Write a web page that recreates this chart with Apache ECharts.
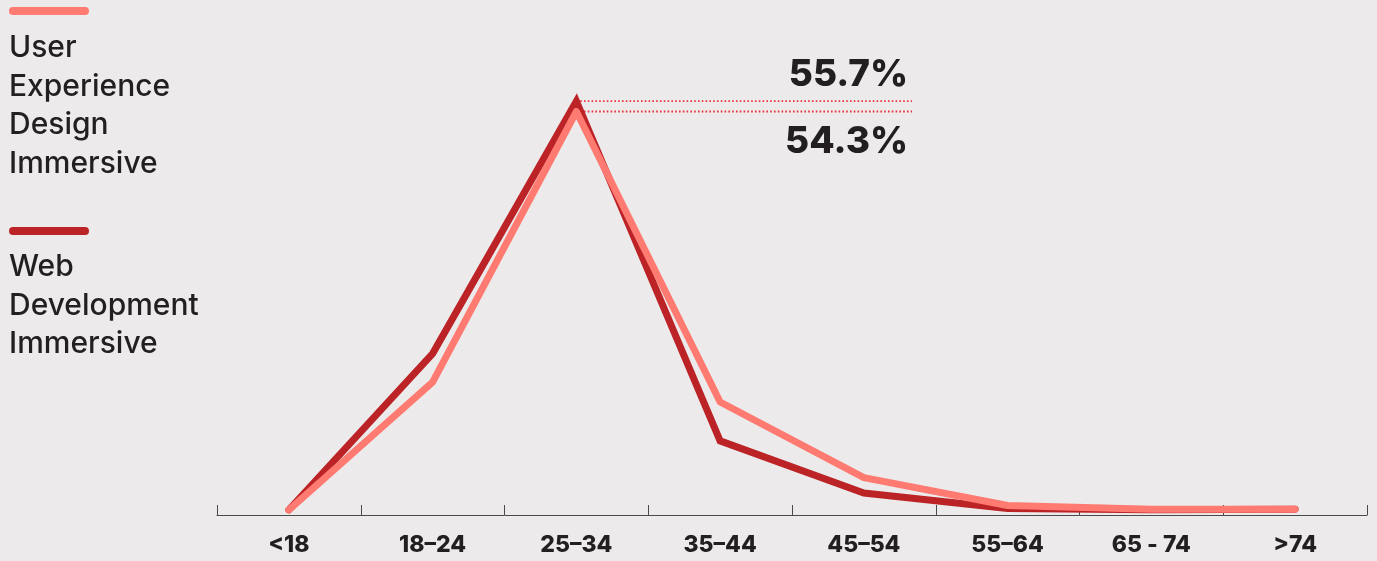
<!DOCTYPE html>
<html>
<head>
<meta charset="utf-8">
<script src="https://cdn.jsdelivr.net/npm/echarts@6/dist/echarts.min.js"></script>
<style>
  html, body { margin: 0; padding: 0; background: #ECEAEB; }
  #chart { width: 1377px; height: 561px; }
</style>
</head>
<body>
<div id="chart"></div>
<script>
// Age bands of graduates, share (%) per course
const ageBands = ['<18', '18\u201324', '25\u201334', '35\u201344', '45\u201354', '55\u201364', '65 - 74', '>74'];
const uxDesign = [0, 17.4, 54.3, 14.7, 4.4, 0.6, 0.1, 0.1];
const webDev = [0, 21.3, 55.7, 9.4, 2.3, 0.2, 0.0, 0.1];
const seriesNames = ['User\nExperience\nDesign\nImmersive', 'Web\nDevelopment\nImmersive'];

const UX_COLOR = '#FF7A71';
const WEB_COLOR = '#BC2327';
const TEXT = '#231F20';
const FONT = 'Inter, "Open Sans", sans-serif';

const peakIdx = 2;
const calloutEnd = 4.835; // end of the dotted callouts on the 0..8 band scale

const chart = echarts.init(document.getElementById('chart'), null, { renderer: 'canvas' });

function callout(value, pos, dist) {
  return {
    type: 'line',
    xAxisIndex: 1,
    silent: true,
    z: 1,
    symbol: 'circle',
    symbolSize: 1,
    itemStyle: { color: 'rgba(0,0,0,0)' },
    lineStyle: { color: '#E8333B', width: 1.8, type: [1.6, 2.2] },
    data: [
      [peakIdx + 0.5, value],
      {
        value: [calloutEnd, value],
        label: {
          show: true,
          position: pos,
          distance: dist,
          align: 'right',
          offset: [-4, 0],
          formatter: (p) => p.value[1].toFixed(1) + '%',
          fontFamily: FONT,
          fontWeight: 800,
          fontSize: 37,
          color: TEXT
        }
      }
    ]
  };
}

chart.setOption({
  backgroundColor: '#ECEAEB',
  animation: false,
  grid: { left: 217, right: 10, top: 55, bottom: 46 },
  xAxis: [
    {
      type: 'category',
      data: ageBands,
      boundaryGap: true,
      axisLine: { onZero: false, lineStyle: { color: '#4a4a4a', width: 1 } },
      axisTick: { show: true, inside: true, length: 10, lineStyle: { color: '#4a4a4a', width: 1 } },
      axisLabel: {
        margin: 19,
        fontFamily: FONT,
        fontWeight: 800,
        fontSize: 23,
        color: TEXT
      },
      splitLine: { show: false }
    },
    { type: 'value', min: 0, max: 8, show: false }
  ],
  yAxis: {
    type: 'value',
    min: -0.7,
    max: 62,
    show: false,
    splitLine: { show: false }
  },
  series: [
    callout(webDev[peakIdx], 'top', 7),
    callout(uxDesign[peakIdx], 'bottom', 11),
    {
      name: 'Web Development Immersive',
      type: 'line',
      data: webDev,
      z: 3,
      symbol: 'none',
      lineStyle: { color: WEB_COLOR, width: 7, cap: 'round', join: 'miter' }
    },
    {
      name: 'User Experience Design Immersive',
      type: 'line',
      data: uxDesign,
      z: 4,
      symbol: 'none',
      lineStyle: { color: UX_COLOR, width: 7, cap: 'round', join: 'round' }
    }
  ],
  graphic: [
    { type: 'line', shape: { x1: 13, y1: 11, x2: 85, y2: 11 },
      style: { stroke: UX_COLOR, lineWidth: 8, lineCap: 'round' } },
    { type: 'text', left: 9, top: 29,
      style: { text: seriesNames[0], fontFamily: FONT, fontWeight: 500, fontSize: 30, lineHeight: 38.5, fill: TEXT } },
    { type: 'line', shape: { x1: 13, y1: 231, x2: 85, y2: 231 },
      style: { stroke: WEB_COLOR, lineWidth: 8, lineCap: 'round' } },
    { type: 'text', left: 9, top: 248,
      style: { text: seriesNames[1], fontFamily: FONT, fontWeight: 500, fontSize: 30, lineHeight: 38.5, fill: TEXT } }
  ]
});
</script>
</body>
</html>
